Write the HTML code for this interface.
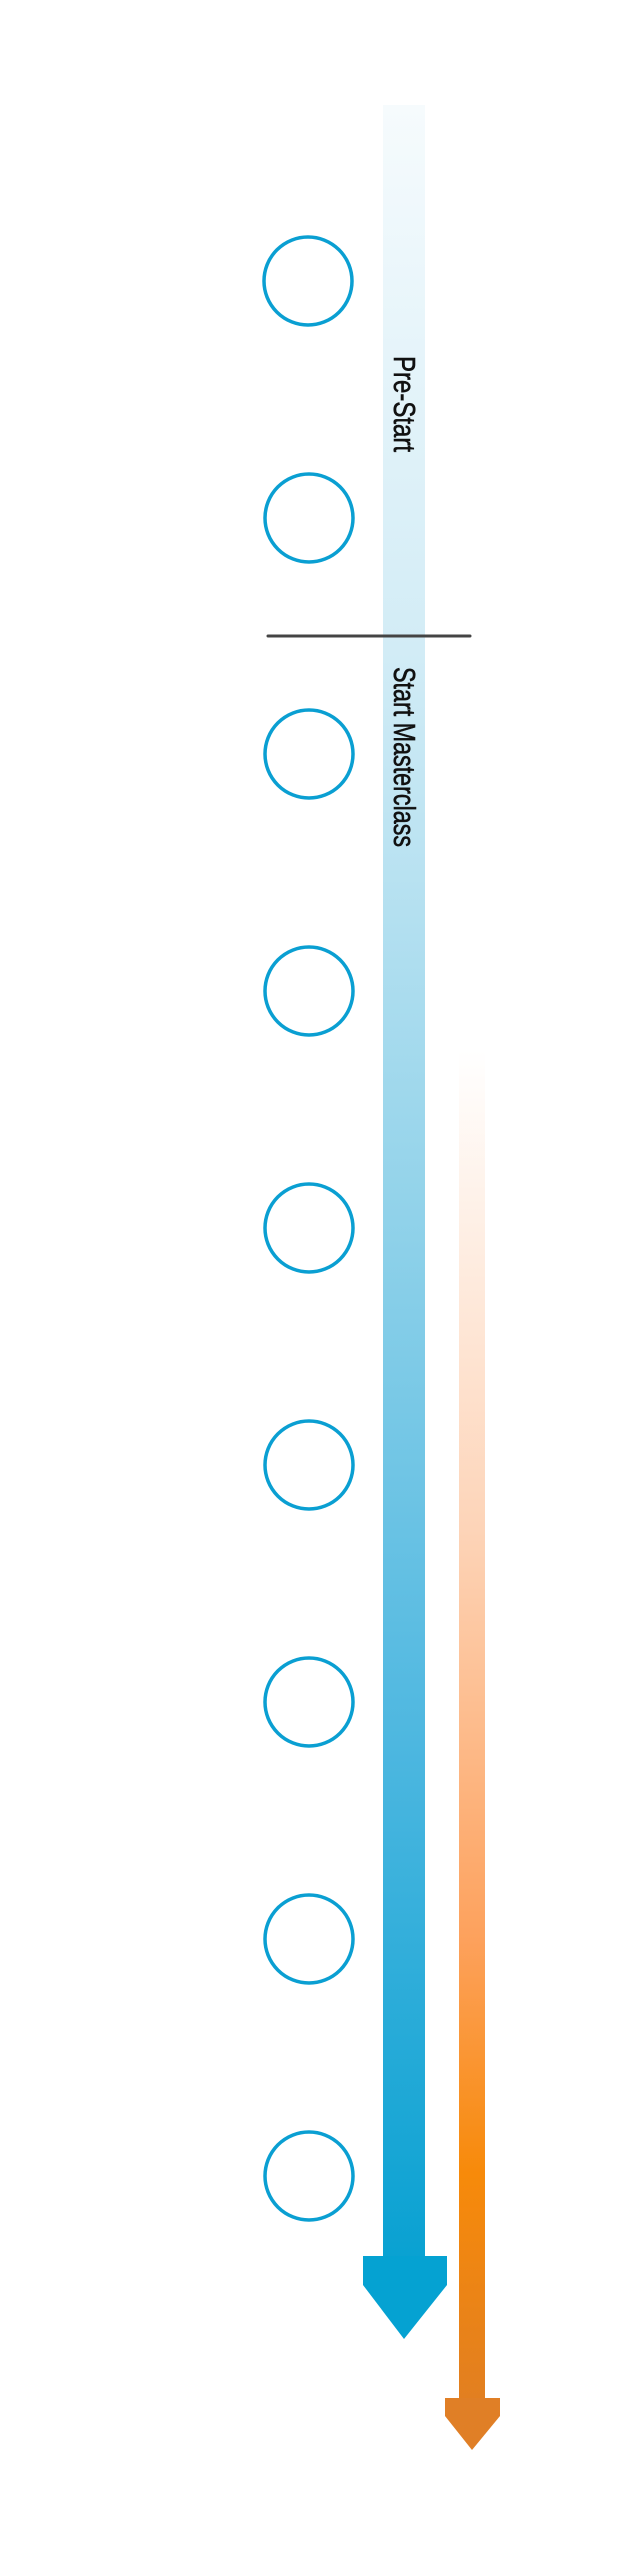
<!DOCTYPE html>
<html><head><meta charset="utf-8"><style>html,body{margin:0;padding:0;background:#fff}svg{display:block}</style></head>
<body>
<svg width="640" height="2560" viewBox="0 0 640 2560" xmlns="http://www.w3.org/2000/svg">
<defs>
<linearGradient id="bg" x1="0" y1="105" x2="0" y2="2290" gradientUnits="userSpaceOnUse">
<stop offset="0" stop-color="#f6fbfd"/>
<stop offset="0.25" stop-color="#d2ecf6"/>
<stop offset="0.5" stop-color="#93d3ea"/>
<stop offset="0.75" stop-color="#4db7e0"/>
<stop offset="1" stop-color="#05a0d1"/>
</linearGradient>
<linearGradient id="og" x1="0" y1="1050" x2="0" y2="2420" gradientUnits="userSpaceOnUse">
<stop offset="0" stop-color="#ffffff"/>
<stop offset="0.35" stop-color="#fdd4b8"/>
<stop offset="0.65" stop-color="#fda15c"/>
<stop offset="0.82" stop-color="#f78a0a"/>
<stop offset="1" stop-color="#e07e22"/>
</linearGradient>
</defs>
<rect x="383" y="105" width="42" height="2152" fill="url(#bg)"/>
<polygon points="363,2256 447,2256 447,2285 404,2339 363,2285" fill="#05a2d2"/>
<rect x="459" y="1050" width="26" height="1350" fill="url(#og)"/>
<polygon points="445,2398 500,2398 500,2416 472,2450 445,2416" fill="#e07f26"/>
<line x1="268" y1="636" x2="470" y2="636" stroke="#444" stroke-width="3" stroke-linecap="round"/>
<g fill="none" stroke="#0a9fd2" stroke-width="3.5">
<circle cx="308" cy="281" r="44"/>
<circle cx="309" cy="518" r="44"/>
<circle cx="309" cy="754" r="44"/>
<circle cx="309" cy="991" r="44"/>
<circle cx="309" cy="1228" r="44"/>
<circle cx="309" cy="1465" r="44"/>
<circle cx="309" cy="1702" r="44"/>
<circle cx="309" cy="1939" r="44"/>
<circle cx="309" cy="2176" r="44"/>
</g>
<g font-family="'Liberation Sans Narrow','Liberation Sans',sans-serif" font-size="31" fill="#111" stroke="#111" stroke-width="0.6">
<text transform="translate(394,356) rotate(90)" textLength="96" lengthAdjust="spacingAndGlyphs">Pre-Start</text>
<text transform="translate(394,667) rotate(90)" textLength="180" lengthAdjust="spacingAndGlyphs">Start Masterclass</text>
</g>
</svg>
</body></html>
